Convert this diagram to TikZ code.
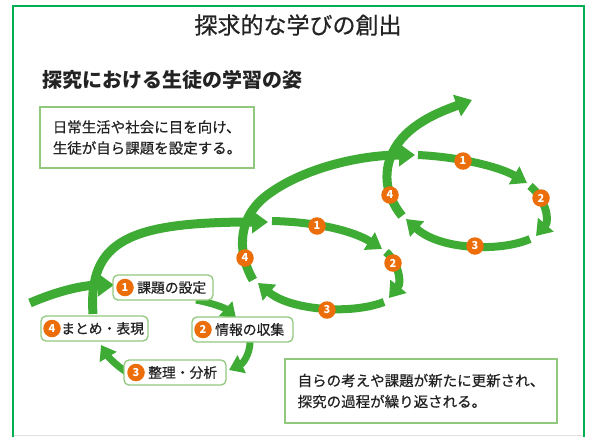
\documentclass[tikz,border=0pt]{standalone}
\usepackage{fontspec}
\setmainfont{Noto Sans CJK JP}
\newfontfamily\jpmed[FakeBold=0.6]{Noto Sans CJK JP}
\usetikzlibrary{arrows.meta}
\definecolor{frameg}{RGB}{0,176,80}
\definecolor{arrg}{RGB}{62,172,52}
\definecolor{boxg}{RGB}{145,200,125}
\definecolor{orng}{RGB}{236,110,10}
\definecolor{txt}{RGB}{35,35,35}
\begin{document}
\begin{tikzpicture}[x=1pt,y=-1pt,
  bigflow/.style={draw=arrg, line width=9pt, -{Triangle[length=16pt,width=22pt]}},
  flow/.style={draw=arrg, line width=8pt, -{Triangle[length=15pt,width=20pt]}},
  smallflow/.style={draw=arrg, line width=7pt, -{Triangle[length=14pt,width=19pt]}},
  badge/.style={circle, fill=orng, text=white, inner sep=0pt, minimum size=17.5pt, font=\fontsize{11}{11}\selectfont\bfseries},
  stagebox/.style={draw=boxg, line width=1.3pt, rounded corners=5pt, fill=white, minimum height=25pt},
  stagetext/.style={anchor=west, inner sep=0pt, font=\jpmed\fontsize{13.8}{14}\selectfont, text=txt},
  notebox/.style={draw=boxg, line width=1.3pt, fill=white, align=left, text=txt, font=\jpmed\fontsize{14.5}{21}\selectfont}
]
\useasboundingbox (0,0) rectangle (592,437);
\fill[white] (0,0) rectangle (592,437);
% frame
\draw[black!12, line width=1pt] (14,435.5) -- (584,435.5);
\draw[frameg, line width=2pt] (13,437) -- (13,6) -- (584,6) -- (584,437);
% titles
\node[text=txt] (title) at (298,25) {\jpmed\fontsize{23}{23}\selectfont 探求的な学びの創出};
\node[anchor=west, inner sep=0pt, text=txt] (sub) at (42,80) {\bfseries\fontsize{20}{20}\selectfont 探究における生徒の学習の姿};
% notes
\node[notebox, minimum width=214pt, minimum height=61pt] (note1) at (147,137.5) {日常生活や社会に目を向け、\\生徒が自ら課題を設定する。};
\node[notebox, minimum width=272pt, minimum height=64pt] (note2) at (421,391) {自らの考えや課題が新たに更新され、\\探究の過程が繰り返される。};

% ---------- loop 1 arrows ----------
\draw[bigflow] (30,303) .. controls (60,290) and (85,285) .. (114,285);
\draw[bigflow] (93,314) .. controls (88,240) and (130,222) .. (268,222);
\draw[smallflow] (196,300) .. controls (212,303) and (225,308) .. (236,318);
\draw[smallflow] (250,342) .. controls (250,355) and (242,364) .. (229,370);
\draw[smallflow] (128,373) .. controls (115,365) and (107,355) .. (101,345);

% ---------- loop 2 ----------
\draw[flow] (272,221) .. controls (320,222) and (355,232) .. (382,249);
\draw[flow] (386,252) .. controls (398,262) and (402,282) .. (389,298);
\draw[flow] (384,302) .. controls (350,315) and (290,310) .. (258,283);
\draw[bigflow] (253,280) .. controls (236,250) and (238,215) .. (270,193)
   .. controls (305,168) and (360,155) .. (415,155);

% ---------- loop 3 ----------
\draw[flow] (418,155) .. controls (460,157) and (500,167) .. (527,183);
\draw[flow] (530,186) .. controls (545,198) and (550,220) .. (536,236);
\draw[flow] (530,239) .. controls (500,252) and (440,250) .. (406,219);
\draw[bigflow] (402,216) .. controls (385,195) and (382,170) .. (395,148)
   .. controls (410,122) and (445,110) .. (472,100);

% badges on loops
\node[badge] (b21) at (317,226) {1};
\node[badge] (b22) at (393,263) {2};
\node[badge] (b23) at (327,310) {3};
\node[badge] (b24) at (245,258) {4};
\node[badge] (b31) at (463,161) {1};
\node[badge] (b32) at (541,198) {2};
\node[badge] (b33) at (475,246) {3};
\node[badge] (b34) at (390,195) {4};

% ---------- loop 1 stage boxes ----------
\node[stagebox, minimum width=100pt] (s1) at (163,287.5) {};
\node[badge] (s1b) at (125,287.5) {1};
\node[stagetext] (s1t) at (137,287.5) {課題の設定};

\node[stagebox, minimum width=101pt] (s2) at (242.5,329.5) {};
\node[badge] (s2b) at (203,329.5) {2};
\node[stagetext] (s2t) at (215,329.5) {情報の収集};

\node[stagebox, minimum width=102pt] (s3) at (175,372.5) {};
\node[badge] (s3b) at (136,372.5) {3};
\node[stagetext] (s3t) at (148,372.5) {整理・分析};

\node[stagebox, minimum width=107pt] (s4) at (94.5,328.5) {};
\node[badge] (s4b) at (52,328.5) {4};
\node[stagetext] (s4t) at (61,328.5) {まとめ・表現};
\end{tikzpicture}
\end{document}
